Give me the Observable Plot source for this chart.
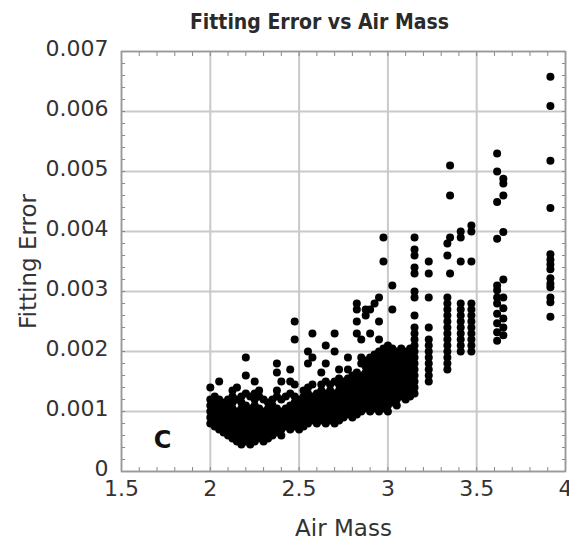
<!DOCTYPE html>
<html>
<head>
<meta charset="utf-8">
<script src="https://cdn.jsdelivr.net/npm/d3@7"></script>
<script src="https://cdn.jsdelivr.net/npm/@observablehq/plot@0.6"></script>
<style>
  html, body { margin: 0; padding: 0; background: #fff; }
  #title {
    width: 569px; height: 40px; box-sizing: border-box; padding-left: 70px;
    text-align: center; font-family: "DejaVu Sans Condensed", "DejaVu Sans", sans-serif;
    font-stretch: condensed; font-weight: bold; font-size: 21px; line-height: 44px; color: #2a2a2a;
  }
  #chart svg { display: block; }
</style>
</head>
<body>
<div id="title">Fitting Error vs Air Mass</div>
<div id="chart"></div>
<script>
// Air mass of each observed column of points
const airMass = [
  2.000, 2.025, 2.050, 2.075, 2.100, 2.125, 2.150, 2.175, 2.200, 2.225,
  2.250, 2.275, 2.300, 2.325, 2.350, 2.375, 2.400, 2.425, 2.450, 2.475,
  2.500, 2.525, 2.550, 2.575, 2.600, 2.625, 2.650, 2.675, 2.700, 2.725,
  2.750, 2.775, 2.800, 2.825, 2.850, 2.875, 2.900, 2.925, 2.950, 2.975,
  3.000, 3.025, 3.050, 3.075, 3.100, 3.125, 3.150, 3.230, 3.335, 3.350,
  3.410, 3.470, 3.615, 3.650, 3.915
];
// Fitting error values found at each air mass column
const fittingError = [
  [.0008,.0009,.0010,.0011,.0012,.0014],
  [.00075,.00085,.00095,.00105,.00115,.00125],
  [.0007,.0008,.0009,.0010,.0011,.0012,.0015],
  [.00065,.00075,.00085,.00095,.00105,.00115],
  [.0006,.0007,.0008,.0009,.0010,.0011,.0012],
  [.00055,.00065,.00075,.00085,.00095,.00105,.00115,.00125,.00135],
  [.0005,.0006,.0007,.0008,.0009,.0010,.0012,.0014],
  [.00045,.00055,.00065,.00075,.00085,.00095,.00105,.00115,.00125],
  [.0005,.0006,.0007,.0008,.0009,.0010,.0011,.0013,.0016,.0019],
  [.00045,.00055,.00065,.00075,.00085,.00095,.00105,.00125],
  [.0005,.0006,.0007,.0008,.0009,.0010,.0011,.0012,.0013,.0015],
  [.00055,.00065,.00075,.00085,.00095,.00105,.00125,.00135],
  [.0005,.0006,.0007,.0008,.0009,.0010,.0012],
  [.00055,.00065,.00075,.00085,.00095,.00105,.00115],
  [.0006,.0007,.0008,.0009,.0010,.0011,.0012],
  [.00065,.00075,.00085,.00095,.00105,.00125,.00135,.00165,.0018],
  [.0006,.0007,.0008,.0009,.0010,.0012,.0015],
  [.00075,.00085,.00095,.00105,.00125],
  [.0007,.0008,.0009,.0010,.0011,.0013,.0015,.0017],
  [.00075,.00085,.00095,.00105,.00115,.00125,.00145,.0022,.0025],
  [.0007,.0008,.0009,.0010,.0011,.0012],
  [.00075,.00085,.00095,.00105,.00115,.00125,.00135],
  [.0008,.0009,.0010,.0011,.0012,.0013,.0014,.0018,.0020],
  [.00085,.00095,.00105,.00115,.00125,.00145,.0019,.0023],
  [.0008,.0009,.0010,.0011,.0012,.0013],
  [.00085,.00095,.00105,.00115,.00125,.00135,.00145,.00165],
  [.0008,.0009,.0010,.0011,.0012,.0013,.0015,.0018,.0021],
  [.00085,.00095,.00105,.00115,.00125,.00135,.00145],
  [.0008,.0009,.0010,.0011,.0012,.0013,.0015,.0020,.0023],
  [.00085,.00095,.00105,.00115,.00125,.00135,.00145,.00155,.0017],
  [.0009,.0010,.0011,.0012,.0013,.0014,.0015],
  [.00095,.00105,.00115,.00125,.00135,.00145,.00155,.0017,.0019],
  [.0009,.0010,.0011,.0012,.0013,.0014,.0015,.0016],
  [.00095,.00105,.00115,.00125,.00135,.00145,.00155,.00165,.0023,.0025,.0027,.0028],
  [.0010,.0011,.0012,.0013,.0014,.0015,.0016,.0018,.0019,.0022],
  [.00105,.00115,.00125,.00135,.00145,.00155,.00165,.00175,.00185,.0026,.0027],
  [.0010,.0011,.0012,.0013,.0014,.0015,.0016,.0017,.0018,.0019,.0023,.0027],
  [.00105,.00115,.00125,.00135,.00145,.00155,.00165,.00175,.00185,.00195,.0028],
  [.0010,.0011,.0012,.0013,.0014,.0015,.0016,.0017,.0018,.0019,.0020,.0022,.0025,.0029],
  [.00105,.00115,.00125,.00135,.00145,.00155,.00165,.00175,.00185,.00195,.00205,.0035,.0039],
  [.0010,.0011,.0012,.0013,.0014,.0015,.0016,.0017,.0018,.0019,.0020,.0021],
  [.00115,.00125,.00135,.00145,.00155,.00165,.00175,.00185,.00195,.00205,.0027,.0031],
  [.0011,.0012,.0013,.0014,.0015,.0016,.0017,.0018,.0019,.0020],
  [.00125,.00135,.00145,.00155,.00165,.00175,.00185,.00195,.00205],
  [.0012,.0013,.0014,.0015,.0016,.0017,.0018,.0019,.0020],
  [.00125,.00135,.00145,.00155,.00165,.00175,.00185,.00195,.00205],
  [.0013,.0014,.0015,.0016,.0017,.0018,.0019,.0020,.0021,.0022,.0023,.0024,.0026,.0029,.0030,.0033,.0034,.0036,.0037,.0039],
  [.0015,.0016,.0017,.0018,.0019,.0020,.0021,.0022,.0024,.0029,.0033,.0035],
  [.0017,.0018,.0019,.0020,.0021,.0022,.0023,.0024,.0025,.0026,.0027,.0028,.0029,.0036,.0038],
  [.0033,.0039,.0046,.0051],
  [.0020,.0021,.0022,.0023,.0024,.0025,.0026,.0027,.0028,.0035,.0039,.0040],
  [.0020,.0021,.0022,.0023,.0024,.0025,.0026,.0027,.0028,.0035,.0040,.0041],
  [.00218,.00232,.00247,.00263,.0028,.0029,.00302,.0031,.00388,.00449,.005,.0053],
  [.00227,.0024,.00255,.00272,.0029,.0032,.00399,.0046,.0048,.00488],
  [.00258,.00282,.0029,.00307,.00313,.00322,.00337,.00345,.00353,.00362,.00439,.00518,.00609,.00658]
];
const xTickValues = [1.5, 2, 2.5, 3, 3.5, 4];
const yTickValues = [0, 0.001, 0.002, 0.003, 0.004, 0.005, 0.006, 0.007];
const panelLetter = ["C"];

const points = airMass.flatMap((a, i) => fittingError[i].map(e => ({airMass: a, error: e})));
const xMinor = d3.range(15, 41).map(v => v / 10);
const yMinor = d3.range(0, 36).map(v => v * 0.0002);

const font = "DejaVu Sans, sans-serif";
const minorTick = {tickSize: -4, tickFormat: () => "", stroke: "#888", label: null};
const chart = Plot.plot({
  width: 569,
  height: 504,
  marginTop: 11,
  marginBottom: 73,
  marginLeft: 121,
  marginRight: 4,
  style: {fontFamily: font, background: "#fff", overflow: "visible"},
  x: {domain: [1.5, 4], nice: false, label: null},
  y: {domain: [0, 0.007], nice: false, label: null},
  marks: [
    Plot.gridX(xTickValues, {stroke: "#c9c9c9", strokeOpacity: 1, strokeWidth: 2}),
    Plot.gridY(yTickValues, {stroke: "#c9c9c9", strokeOpacity: 1, strokeWidth: 2}),
    Plot.axisX(xMinor, {anchor: "bottom", ...minorTick}),
    Plot.axisX(xMinor, {anchor: "top", ...minorTick}),
    Plot.axisY(yMinor, {anchor: "left", ...minorTick}),
    Plot.axisY(yMinor, {anchor: "right", ...minorTick}),
    Plot.axisX(xTickValues, {anchor: "bottom", tickSize: 0, tickPadding: 9, fontSize: 22, fill: "#333",
      tickFormat: d => String(d), label: null}),
    Plot.axisY(yTickValues, {anchor: "left", tickSize: 0, tickPadding: 13, fontSize: 22, fill: "#333", dy: -3,
      tickFormat: d => d === 0 ? "0" : d.toFixed(3), label: null}),
    Plot.frame({stroke: "#999", strokeWidth: 1.5}),
    Plot.dot(points, {x: "airMass", y: "error", r: 4, fill: "#000", stroke: "none"}),
    Plot.text(panelLetter, {frameAnchor: "bottom-left", dx: 41, dy: -31, text: d => d, fontSize: 24,
      fontWeight: "bold", fill: "#111", textAnchor: "middle", lineAnchor: "middle"}),
    Plot.text(["Air Mass"], {frameAnchor: "bottom", dx: 0, dy: 57, text: d => d, fontSize: 23, fill: "#333",
      lineAnchor: "middle"}),
    Plot.text(["Fitting Error"], {frameAnchor: "left", dx: -93, dy: 0, text: d => d, fontSize: 23, fill: "#333",
      rotate: -90, lineAnchor: "middle", textAnchor: "middle"})
  ]
});
document.getElementById("chart").appendChild(chart);
</script>
</body>
</html>
